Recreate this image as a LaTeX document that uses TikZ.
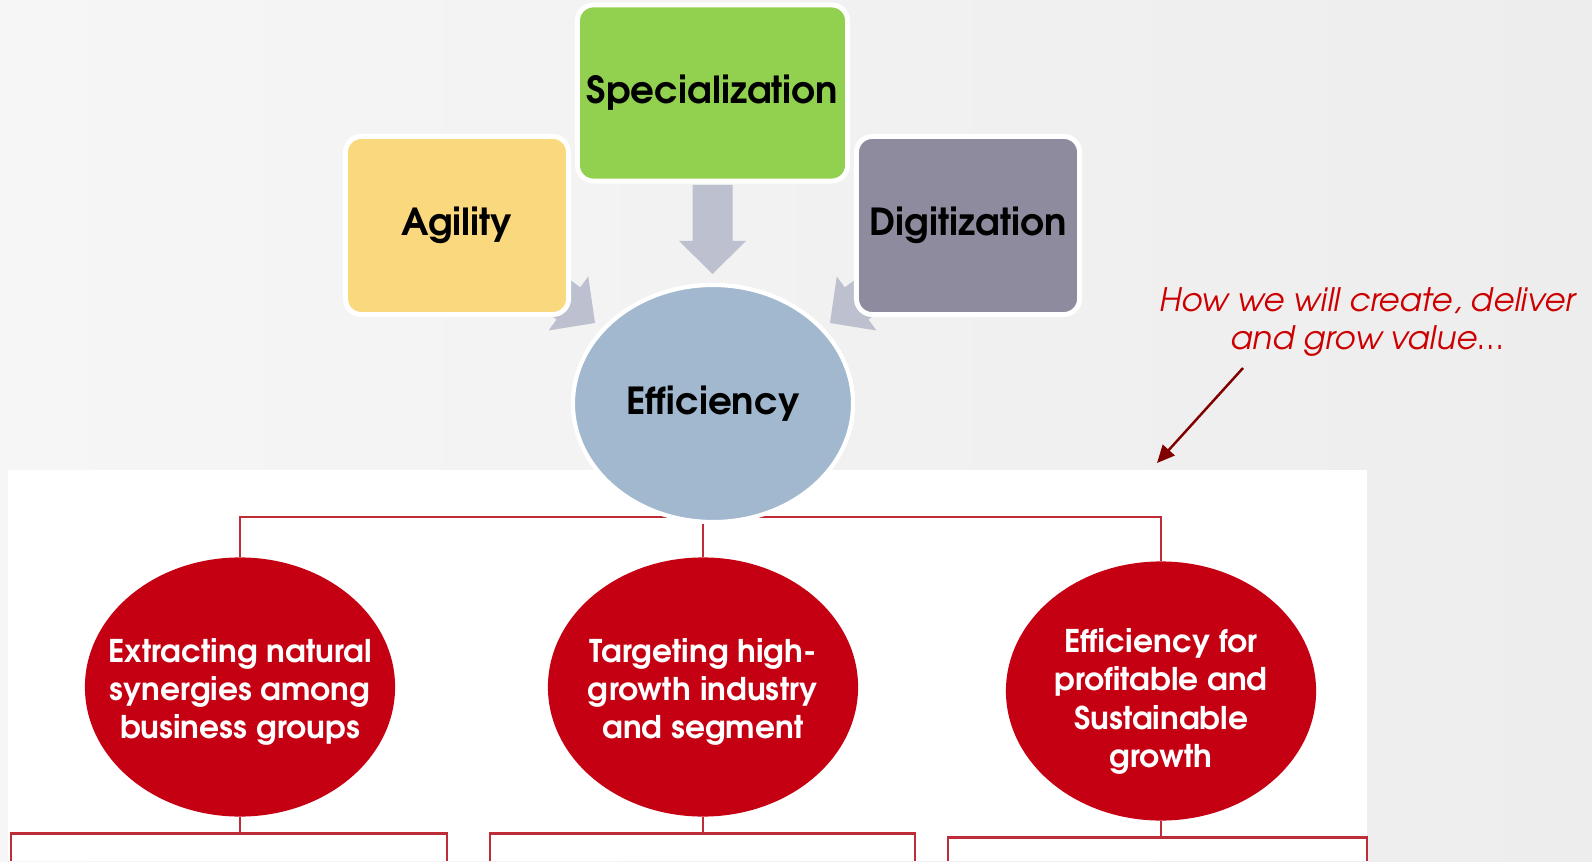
\documentclass[tikz,border=0pt]{standalone}
\usepackage{fontspec}
\setmainfont{TeX Gyre Adventor}
\usepackage{xcolor}
\usepackage{tikz}
\usetikzlibrary{positioning,shapes.geometric,arrows.meta}

\definecolor{bgleft}{RGB}{246,246,246}
\definecolor{bgright}{RGB}{237,237,237}
\definecolor{agilityyellow}{RGB}{250,217,126}
\definecolor{specgreen}{RGB}{146,208,80}
\definecolor{digigray}{RGB}{142,139,158}
\definecolor{effblue}{RGB}{162,184,207}
\definecolor{flowgray}{RGB}{188,192,207}
\definecolor{goalred}{RGB}{197,0,18}
\definecolor{treered}{RGB}{190,45,55}
\definecolor{notered}{RGB}{204,0,0}
\definecolor{notearrow}{RGB}{128,0,0}

% block arrow, tip at #1, pointing at angle #2
\newcommand{\flowarrow}[2]{%
    \fill[flowgray, shift={(#1)}, rotate=#2]
        (0,0) -- (-33,33.5) -- (-33,20) -- (-89,20) -- (-89,-20)
        -- (-33,-20) -- (-33,-33.5) -- cycle;}

\begin{document}
\begin{tikzpicture}[x=0.01cm, y=-0.01cm]
    \tikzstyle{driver}=[rectangle, rounded corners=4.5pt, draw=white, line width=1.4pt, minimum width=2.23cm, minimum height=1.78cm, inner sep=0pt, font=\fontsize{10.6}{12}\selectfont\bfseries]
    \tikzstyle{hub}=[ellipse, fill=effblue, draw=white, line width=1.2pt, minimum width=2.8cm, minimum height=2.37cm, inner sep=0pt, font=\fontsize{10.6}{12}\selectfont\bfseries]
    \tikzstyle{goal}=[ellipse, fill=goalred, minimum width=3.1cm, minimum height=2.59cm, inner sep=0pt]
    \tikzstyle{goaltext}=[text=white, align=center, inner sep=0pt, yshift=-1.4pt, font=\fontsize{8.9}{10.9}\selectfont\bfseries]
    \tikzstyle{tree}=[draw=treered, line width=0.7pt]
    \tikzstyle{note}=[text=notered, align=center, font=\fontsize{9.2}{10.8}\selectfont\itshape]

    \useasboundingbox (0,0) rectangle (1592,861);

    % Slide background and white panel
    \shade[left color=bgleft, right color=bgright] (0,0) rectangle (1592,861);
    \fill[white] (8,470) rectangle (1367,861);

    % Goals
    \node[goal, label={[goaltext]center:Extracting natural\\synergies among\\business groups}] (G-1) at (240,687) {};
    \node[goal, label={[goaltext]center:Targeting high-\\growth industry\\and segment}] (G-2) at (703,687) {};
    \node[goal, label={[goaltext, yshift=-1.6pt]center:Efficiency for\\profitable and\\Sustainable\\growth}] (G-3) at (1161,691) {};

    % Connect the hub to every goal
    \coordinate (bus) at (713,517);
    \draw[tree] (G-1.north) |- (bus) -| (G-3.north);
    \draw[tree] (bus -| G-2.north) -- (G-2.north);

    % Branches below the goals
    \coordinate (L-1) at (11,861);  \coordinate (R-1) at (447,861);
    \coordinate (L-2) at (490,861); \coordinate (R-2) at (915,861);
    \coordinate (L-3) at (948,861); \coordinate (R-3) at (1367,861);
    \foreach \name in {1,2,3} {
        \draw[tree] (G-\name.south) -- ++(0,16) coordinate (K-\name);
        \draw[tree] (L-\name) |- (K-\name) -| (R-\name);
    }

    % Side arrows, tucked under the boxes
    \coordinate (tipL) at (595,323);
    \coordinate (tipR) at (830,323);
    \coordinate (tipS) at (712.5,274);
    \flowarrow{tipL}{-36.3}
    \flowarrow{tipR}{-143.7}

    % The three drivers
    \node[driver, fill=specgreen, minimum width=2.70cm, minimum height=1.76cm] (spec) at (712.5,93) {Specialization};
    \node[driver, fill=agilityyellow] (agil) at (457,225.5) {Agility};
    \node[driver, fill=digigray] (digi) at (968,225.5) {Digitization};
    \flowarrow{tipS}{-90}

    % Hub
    \node[hub] (eff) at (713,403.5) {Efficiency};

    % Annotate the value chain
    \node[note] (note) at (1367,322) {How we will create, deliver\\and grow value…};
    \coordinate (nstart) at (1243,368);
    \coordinate (nend) at (1157,463);
    \draw[notearrow, line width=0.7pt, -{Triangle[length=5pt,width=4.5pt]}] (nstart) -- (nend);
\end{tikzpicture}
\end{document}
